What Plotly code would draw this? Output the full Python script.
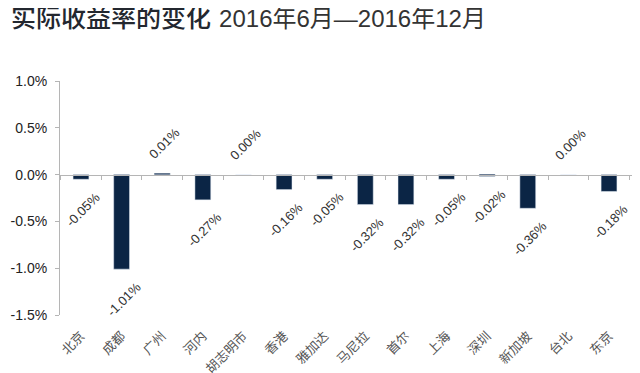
import plotly.graph_objects as go

cities = ["北京", "成都", "广州", "河内", "胡志明市", "香港", "雅加达", "马尼拉", "首尔", "上海", "深圳", "新加坡", "台北", "东京"]
values = [-0.05, -1.01, 0.01, -0.27, 0.00, -0.16, -0.05, -0.32, -0.32, -0.05, -0.02, -0.36, 0.00, -0.18]
labels = ["-0.05%", "-1.01%", "0.01%", "-0.27%", "0.00%", "-0.16%", "-0.05%", "-0.32%", "-0.32%", "-0.05%", "-0.02%", "-0.36%", "0.00%", "-0.18%"]
ytick_vals = [1.0, 0.5, 0.0, -0.5, -1.0, -1.5]
ytick_text = ["1.0%", "0.5%", "0.0%", "-0.5%", "-1.0%", "-1.5%"]

FONT = "Liberation Sans, Arial, Noto Sans CJK SC, sans-serif"
BAR = "#0b2545"

fig = go.Figure()
fig.add_trace(go.Bar(
    x=cities, y=values, marker_color=BAR, marker_line_width=0,
    xaxis="x", yaxis="y", hoverinfo="x+y",
))
fig.add_trace(go.Bar(
    x=cities, y=values, marker_color="rgba(0,0,0,0)", hoverinfo="skip",
    xaxis="x2", yaxis="y", showlegend=False,
))

annotations = []
for c, v, t in zip(cities, values, labels):
    annotations.append(dict(
        x=c, y=v, xref="x", yref="y", text=t, showarrow=False,
        textangle=-45, yshift=(-30 if v < 0 else 30), xshift=2,
        font=dict(size=13, color="#333333", family=FONT),
    ))

annotations.append(dict(
    xref="paper", yref="paper", x=-51/574, y=1 + 65/234, xanchor="left", yanchor="middle",
    text=("<span style='font-size:25px;color:#23272f;font-weight:500'>实际收益率的变化</span>&nbsp;&nbsp;&nbsp;"
          "<span style='font-size:24px;color:#333333;font-family:Liberation Sans, Arial, Noto Sans CJK SC'>2016年6月—2016年12月</span>"),
    showarrow=False, font=dict(family="Noto Sans CJK SC, sans-serif"),
))

fig.update_layout(
    width=632, height=365,
    margin=dict(l=52, r=6, t=73, b=58, autoexpand=False),
    paper_bgcolor="white", plot_bgcolor="white",
    showlegend=False, bargap=0.61,
    font=dict(family=FONT, color="#333333"),
    xaxis=dict(
        showline=False, ticks="", showgrid=False, zeroline=False,
        tickangle=-45, ticklabelstandoff=10, automargin=False,
        tickfont=dict(size=13, color="#555555", family="Noto Sans CJK SC, sans-serif"),
    ),
    xaxis2=dict(
        overlaying="x", anchor="free", position=0.6, matches="x",
        showline=True, linecolor="#b5b5b5", linewidth=1,
        ticks="outside", tickson="boundaries", ticklen=4, tickcolor="#b5b5b5",
        showticklabels=False, showgrid=False, zeroline=False, automargin=False,
    ),
    yaxis=dict(
        range=[-1.5, 1.0], tickvals=ytick_vals, ticktext=ytick_text,
        showline=True, linecolor="#b5b5b5", linewidth=1,
        ticks="outside", ticklen=4, tickcolor="#b5b5b5", ticklabelstandoff=5,
        showgrid=False, zeroline=False, automargin=False,
        tickfont=dict(size=14, color="#222222", family=FONT),
    ),
    annotations=annotations,
)

fig.write_html("out.html")
